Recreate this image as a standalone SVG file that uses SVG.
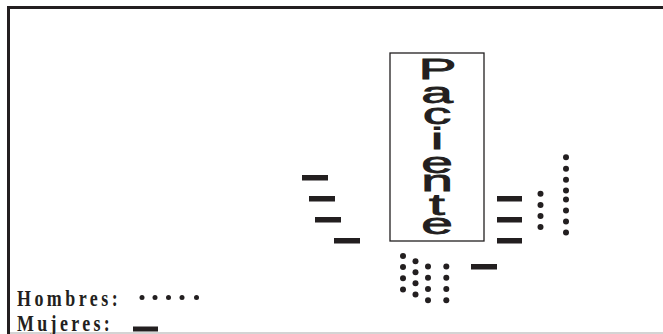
<svg xmlns="http://www.w3.org/2000/svg" width="663" height="334" viewBox="0 0 663 334">
<style>
.bar{fill:#231f20}
.dot{fill:#231f20}
.big{font-family:"Liberation Sans",Arial,sans-serif;font-size:30px;fill:#231f20;stroke:#231f20;stroke-width:0.8;text-anchor:middle}
.leg{font-family:"Liberation Serif","Times New Roman",serif;font-weight:bold;font-size:23px;fill:#231f20}
</style>
<rect width="663" height="334" fill="#ffffff"/>
<g id="frame" fill="none">
<path d="M8.5 334 V7.5 H663" stroke="#231f20" stroke-width="3"/>
<path d="M10 333 H663" stroke="#aaaaaa" stroke-width="1.2"/>
</g>
<g id="paciente">
<rect x="390" y="53" width="94" height="188" fill="none" stroke="#231f20" stroke-width="1.3"/>
<text class="big" transform="scale(1.9,1)"><tspan x="230.3" y="79.5">P</tspan><tspan x="230" y="103">a</tspan><tspan x="230" y="124.5">c</tspan><tspan x="230" y="149">i</tspan><tspan x="230" y="173.5">e</tspan><tspan x="230" y="191.5">n</tspan><tspan x="230" y="215">t</tspan><tspan x="230" y="234">e</tspan></text>
</g>
<g id="mujeres-marks">
<rect class="bar" x="302" y="175" width="26" height="5.5"/>
<rect class="bar" x="309" y="196" width="26" height="5.5"/>
<rect class="bar" x="315" y="217" width="26" height="5.5"/>
<rect class="bar" x="334" y="238" width="26" height="5.5"/>
<rect class="bar" x="497" y="196" width="25" height="5.5"/>
<rect class="bar" x="497" y="217" width="25" height="5.5"/>
<rect class="bar" x="497" y="238" width="25" height="5.5"/>
<rect class="bar" x="471" y="264" width="26" height="5.5"/>
</g>
<g id="hombres-marks">
<circle class="dot" cx="540.5" cy="193.7" r="3"/>
<circle class="dot" cx="540.5" cy="205" r="3"/>
<circle class="dot" cx="540.5" cy="216" r="3"/>
<circle class="dot" cx="540.5" cy="227" r="3"/>
<circle class="dot" cx="566" cy="157.3" r="3"/>
<circle class="dot" cx="566" cy="168.7" r="3"/>
<circle class="dot" cx="566" cy="179.7" r="3"/>
<circle class="dot" cx="566" cy="190.5" r="3"/>
<circle class="dot" cx="566" cy="199.5" r="3"/>
<circle class="dot" cx="566" cy="210.5" r="3"/>
<circle class="dot" cx="566" cy="221.5" r="3"/>
<circle class="dot" cx="566" cy="232.5" r="3"/>
<circle class="dot" cx="403" cy="256" r="3"/>
<circle class="dot" cx="403" cy="267" r="3"/>
<circle class="dot" cx="403" cy="278.2" r="3"/>
<circle class="dot" cx="403" cy="289.5" r="3"/>
<circle class="dot" cx="415.5" cy="261.3" r="3"/>
<circle class="dot" cx="415.5" cy="272.3" r="3"/>
<circle class="dot" cx="415.5" cy="283.3" r="3"/>
<circle class="dot" cx="415.5" cy="294.5" r="3"/>
<circle class="dot" cx="428" cy="266.5" r="3"/>
<circle class="dot" cx="428" cy="277.7" r="3"/>
<circle class="dot" cx="428" cy="289" r="3"/>
<circle class="dot" cx="428" cy="300.2" r="3"/>
<circle class="dot" cx="446.3" cy="266.5" r="3"/>
<circle class="dot" cx="446.3" cy="277.7" r="3"/>
<circle class="dot" cx="446.3" cy="289" r="3"/>
<circle class="dot" cx="446.3" cy="300.2" r="3"/>
</g>
<g id="legend">
<text class="leg" transform="translate(17,306) scale(0.78,1)" textLength="129" lengthAdjust="spacing">Hombres:</text>
<circle class="dot" cx="142" cy="297.5" r="2.5"/>
<circle class="dot" cx="155" cy="297.5" r="2.5"/>
<circle class="dot" cx="168.5" cy="297.5" r="2.5"/>
<circle class="dot" cx="182" cy="297.5" r="2.5"/>
<circle class="dot" cx="196.5" cy="297.5" r="2.5"/>
<text class="leg" transform="translate(17,330.5) scale(0.78,1)" textLength="119" lengthAdjust="spacing">Mujeres:</text>
<rect class="bar" x="133" y="326.5" width="25" height="5"/>
</g>
</svg>
